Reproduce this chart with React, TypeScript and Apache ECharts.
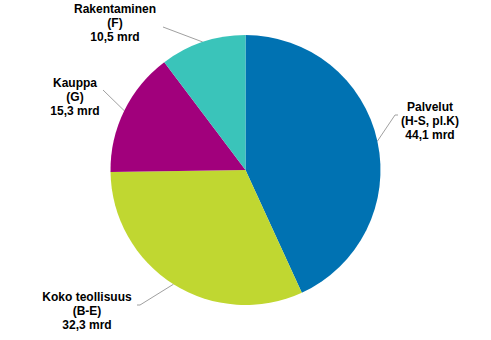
import React, { useEffect, useRef } from "react";
import * as echarts from "echarts";

const names = ["Palvelut", "Koko teollisuus", "Kauppa", "Rakentaminen"];
const codes = ["H-S, pl.K", "B-E", "G", "F"];
const values = [44.1, 32.3, 15.3, 10.5];
const colors = ["#0072B2", "#C0D731", "#A1007C", "#3AC4BA"];

// label anchor (text centre x, middle line y) and leader-line end per slice
const labelPos = [
  { x: 430, y: 121, lx: 395, ly: 115, hx: 398 },
  { x: 87, y: 311, lx: 140, ly: 305, hx: 137 },
  { x: 75, y: 97, lx: 103, ly: 90, hx: 103 },
  { x: 115, y: 23, lx: 163, ly: 27, hx: 163 },
];

export default function App() {
  const ref = useRef<HTMLDivElement>(null);
  useEffect(() => {
    document.body.style.margin = "0";
    const chart = echarts.init(ref.current!, null, { renderer: "svg" });
    chart.setOption({
      animation: false,
      backgroundColor: "#ffffff",
      series: [
        {
          type: "pie",
          center: [245.5, 170],
          radius: [0, 135],
          startAngle: 90,
          clockwise: true,
          data: names.map((n, i) => ({
            name: n,
            value: values[i],
            itemStyle: { color: colors[i] },
          })),
          label: {
            show: true,
            position: "outside",
            formatter: (p: any) =>
              `${p.name}\n(${codes[p.dataIndex]})\n${String(p.value).replace(".", ",")} mrd`,
            fontFamily: "Liberation Sans, Arial, sans-serif",
            fontWeight: "bold",
            fontSize: 12,
            lineHeight: 14,
            color: "#000",
            align: "center",
          },
          labelLine: {
            show: true,
            length: 10,
            length2: 10,
            lineStyle: { color: "#A0A0A0", width: 1 },
          },
          labelLayout: (p: any) => {
            const lp = labelPos[p.dataIndex];
            const start = p.labelLinePoints ? p.labelLinePoints[0] : [lp.lx, lp.ly];
            return {
              x: lp.x,
              y: lp.y,
              align: "center",
              verticalAlign: "middle",
              labelLinePoints: [start, [lp.lx, lp.ly], [lp.hx, lp.ly]],
            };
          },
          emphasis: { disabled: true },
        },
      ],
    });
    return () => chart.dispose();
  }, []);
  return <div ref={ref} style={{ width: 491, height: 340 }} />;
}
